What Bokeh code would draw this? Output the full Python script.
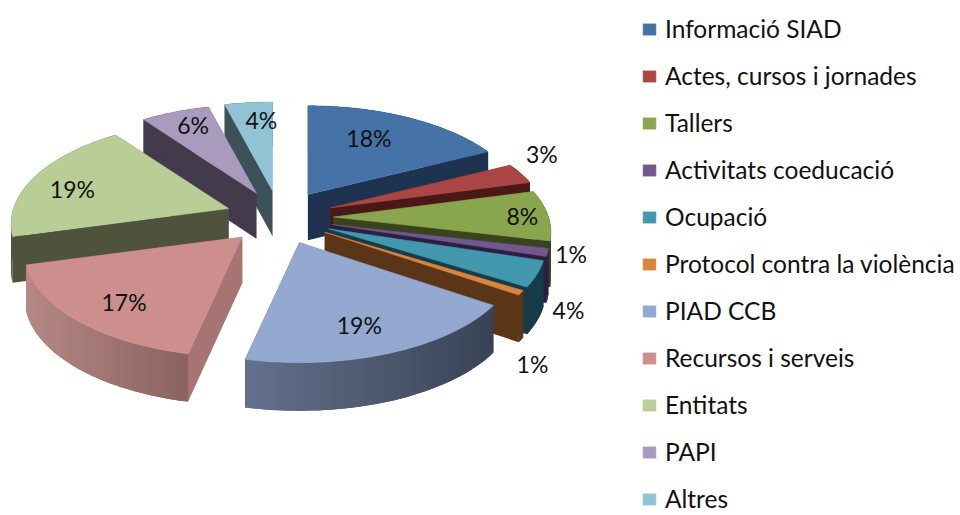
import math
from bokeh.plotting import figure
from bokeh.models import Legend, LegendItem
from bokeh.core.properties import value
from bokeh.embed import file_html
from bokeh.resources import INLINE

categories = ["Informació SIAD", "Actes, cursos i jornades", "Tallers", "Activitats coeducació",
              "Ocupació", "Protocol contra la violència", "PIAD CCB", "Recursos i serveis",
              "Entitats", "PAPI", "Altres"]
shares = [17.6, 3.2, 7.8, 1.2, 4.0, 0.7, 18.9, 17.3, 19.2, 5.9, 4.1]

top_colors = ["#4572A7", "#AA4643", "#89A54E", "#71588F", "#4198AF", "#DB843D",
              "#93A9CF", "#CC8F8D", "#B9CD96", "#A99BBD", "#92C3D5"]
cut_colors = ["#1E3350", "#4A1917", "#39441F", "#2C1F3E", "#163C49", "#5B3517",
              "#3A4456", "#A67573", "#4F533B", "#433A4C", "#3D5159"]
arc_left = ["#1E3350", "#4A1917", "#39441F", "#2C1F3E", "#163C49", "#5B3517",
            "#63718D", "#B58885", "#4F533B", "#433A4C", "#3D5159"]
arc_right = ["#1E3350", "#4A1917", "#39441F", "#2C1F3E", "#163C49", "#5B3517",
             "#394355", "#8A6260", "#4F533B", "#433A4C", "#3D5159"]
label_nudge = [(-2, -8), (95, -33), (60, 0), (112, 13), (118, 55), (94, 97),
               (8, 20), (-23, 18), (-38, 0), (-12, -17), (4, -15)]

W, H = 960, 515
CX, CY, EXPL_X, EXPL_Y = 279, 217, 54, 27
RX, RY, PERSP = 215, 102, 0.15


def hex_rgb(h):
    return [int(h[i:i + 2], 16) for i in (1, 3, 5)]


def mix(a, b, t):
    ca, cb = hex_rgb(a), hex_rgb(b)
    return "#%02x%02x%02x" % tuple(round(ca[i] + (cb[i] - ca[i]) * t) for i in range(3))


def project(ax, ay, deg, rho):
    s, c = math.sin(math.radians(deg)) * rho, math.cos(math.radians(deg)) * rho
    w = 1 + PERSP * c
    return ax + RX * s / w, ay - RY * c / w


def drop(y):
    return 46 + 1.5 * (y - CY) / 100


p = figure(width=W, height=H, x_range=(0, W), y_range=(H, 0),
           toolbar_location=None, output_backend="svg", min_border=0,
           outline_line_color=None)
p.axis.visible = False
p.grid.visible = False
p.background_fill_color = "#ffffff"
p.border_fill_color = "#ffffff"

total = sum(shares)
cum, slices = 0, []
for i, v in enumerate(shares):
    a0, a1 = 360 * cum / total, 360 * (cum + v) / total
    cum += v
    slices.append((i, a0, a1, (a0 + a1) / 2))


def wall(pts, color):
    xs = [q[0] for q in pts] + [q[0] for q in reversed(pts)]
    ys = [q[1] for q in pts] + [q[1] + drop(q[1]) for q in reversed(pts)]
    p.patch(xs, ys, fill_color=color, line_color=None)


tops = {}
for i, a0, a1, m in sorted(slices, key=lambda t: -math.cos(math.radians(t[3]))):
    ax = CX + EXPL_X * math.sin(math.radians(m))
    ay = CY - EXPL_Y * math.cos(math.radians(m))
    n = max(2, int((a1 - a0) / 1.5))
    arc = [project(ax, ay, a0 + (a1 - a0) * k / n, 1) for k in range(n + 1)]
    # cut faces first, the outer wall facets next, the top last
    wall([(ax, ay), arc[0]], cut_colors[i])
    wall([(ax, ay), arc[-1]], cut_colors[i])
    xmin = min(q[0] for q in arc)
    xmax = max(q[0] for q in arc)
    # each facet overlaps the next one so that no seams show
    for k in range(n):
        t = ((arc[k][0] + arc[k + 1][0]) / 2 - xmin) / max(xmax - xmin, 1)
        wall(arc[k:k + 3], mix(arc_left[i], arc_right[i], t))
    xs = [ax] + [q[0] for q in arc]
    ys = [ay] + [q[1] for q in arc]
    tops[i] = p.patch(xs, ys, fill_color=top_colors[i], line_color=top_colors[i], line_width=0.6)

lx, ly, ltxt = [], [], []
for i, a0, a1, m in slices:
    ax = CX + EXPL_X * math.sin(math.radians(m))
    ay = CY - EXPL_Y * math.cos(math.radians(m))
    x, y = project(ax, ay, m, 0.6)
    lx.append(x + label_nudge[i][0])
    ly.append(y + label_nudge[i][1])
    ltxt.append(f"{round(shares[i])}%")
p.text(lx, ly, text=ltxt, text_font=value("Lato"), text_font_size="23px", text_color="#111111",
       text_align="center", text_baseline="middle")

legend = Legend(items=[LegendItem(label=c, renderers=[tops[i]]) for i, c in enumerate(categories)],
                location=(641, 2), orientation="vertical",
                glyph_width=16, glyph_height=14, label_standoff=8, spacing=18,
                label_height=28, label_text_font="Lato", label_text_font_size="24.5px",
                label_text_color="#111111", padding=0, margin=0,
                border_line_color=None, background_fill_alpha=0)
p.add_layout(legend, "center")

open("out.html", "w").write(file_html(p, INLINE))
